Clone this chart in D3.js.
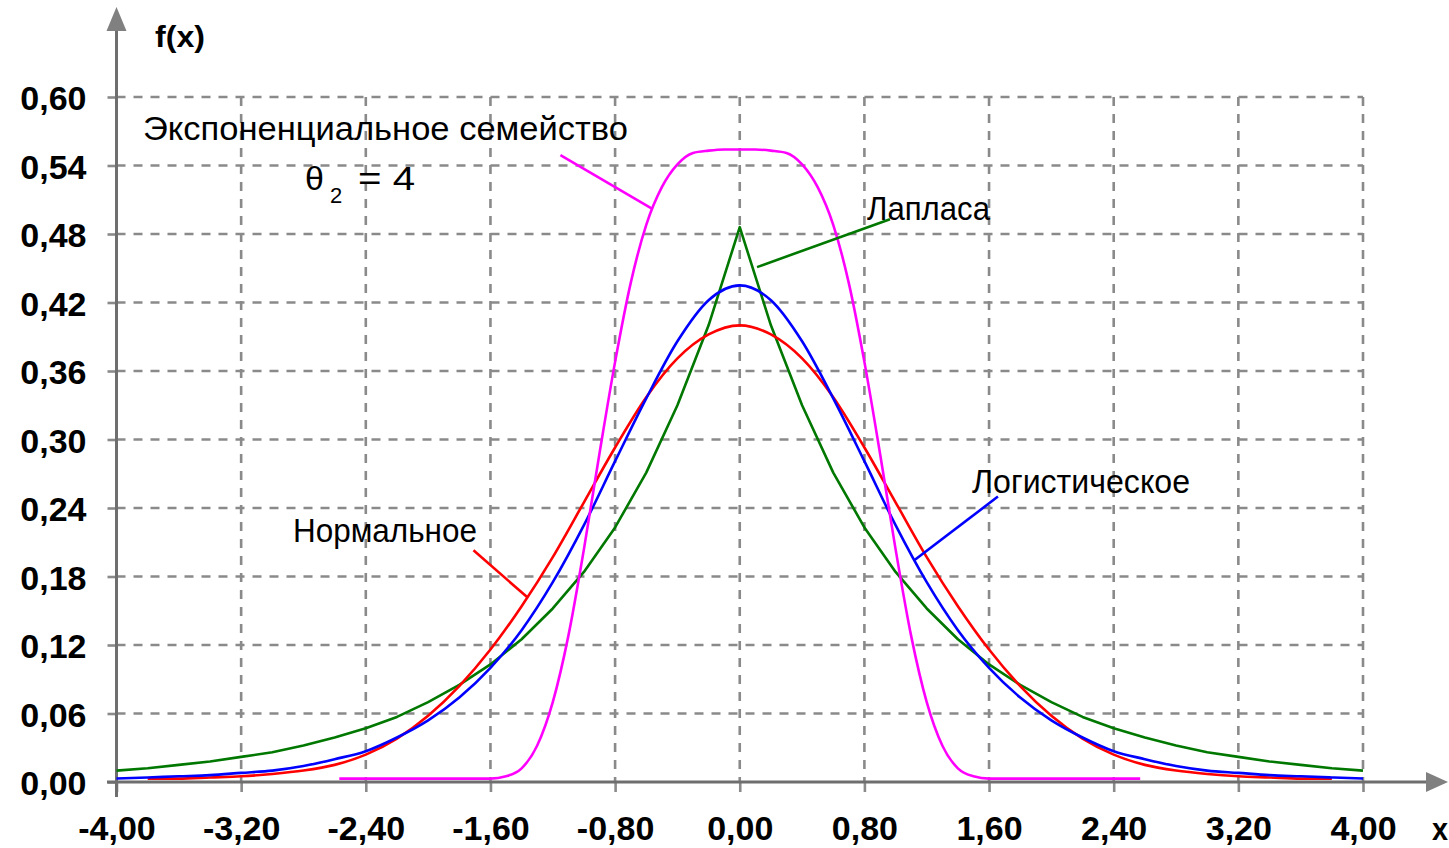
<!DOCTYPE html>
<html>
<head>
<meta charset="utf-8">
<script src="https://cdn.jsdelivr.net/npm/d3@7"></script>
<style>
  body { margin: 0; background: #fff; }
  svg { display: block; }
</style>
</head>
<body>
<figure id="chart" style="margin:0"></figure>
<script>
// x positions shared by the Laplace and logistic curves
const xFull = [-4.0, -3.8, -3.6, -3.4, -3.2, -3.0, -2.8, -2.6, -2.4, -2.2, -2.0, -1.8, -1.6, -1.4, -1.2, -1.0, -0.8, -0.6, -0.4, -0.2,
  0.0, 0.2, 0.4, 0.6, 0.8, 1.0, 1.2, 1.4, 1.6, 1.8, 2.0, 2.2, 2.4, 2.6, 2.8, 3.0, 3.2, 3.4, 3.6, 3.8, 4.0];

const laplace = [0.010, 0.012, 0.015, 0.018, 0.022, 0.026, 0.032, 0.039, 0.047, 0.057, 0.070, 0.085, 0.103, 0.125, 0.152, 0.184, 0.223, 0.271, 0.330, 0.400,
  0.486, 0.400, 0.330, 0.271, 0.223, 0.184, 0.152, 0.125, 0.103, 0.085, 0.070, 0.057, 0.047, 0.039, 0.032, 0.026, 0.022, 0.018, 0.015, 0.012, 0.010];

const logistic = [0.003, 0.004, 0.005, 0.006, 0.008, 0.010, 0.014, 0.020, 0.027, 0.039, 0.054, 0.074, 0.100, 0.133, 0.175, 0.225, 0.281, 0.336, 0.386, 0.422,
  0.435, 0.422, 0.386, 0.336, 0.281, 0.225, 0.175, 0.133, 0.100, 0.074, 0.054, 0.039, 0.027, 0.020, 0.014, 0.010, 0.008, 0.006, 0.005, 0.004, 0.003];

// normal curve is drawn from -3.8 to 3.8
const xNormal = [-3.8, -3.6, -3.4, -3.2, -3.0, -2.8, -2.6, -2.4, -2.2, -2.0, -1.8, -1.6, -1.4, -1.2, -1.0, -0.8, -0.6, -0.4, -0.2,
  0.0, 0.2, 0.4, 0.6, 0.8, 1.0, 1.2, 1.4, 1.6, 1.8, 2.0, 2.2, 2.4, 2.6, 2.8, 3.0, 3.2, 3.4, 3.6, 3.8];

const normal = [0.003, 0.003, 0.004, 0.005, 0.007, 0.010, 0.015, 0.024, 0.038, 0.058, 0.084, 0.116, 0.154, 0.197, 0.245, 0.293, 0.337, 0.371, 0.392,
  0.400, 0.392, 0.371, 0.337, 0.293, 0.245, 0.197, 0.154, 0.116, 0.084, 0.058, 0.038, 0.024, 0.015, 0.010, 0.007, 0.005, 0.004, 0.003, 0.003];

// exponential family (theta2 = 4), flat outside +-1.6
const xExp = [-2.57, -1.6, -1.5, -1.4, -1.3, -1.2, -1.1, -1.0, -0.9, -0.8, -0.7, -0.6, -0.5, -0.4, -0.3, -0.2, -0.1,
  0.0, 0.1, 0.2, 0.3, 0.4, 0.5, 0.6, 0.7, 0.8, 0.9, 1.0, 1.1, 1.2, 1.3, 1.4, 1.5, 1.6, 2.57];

const expFamily = [0.003, 0.003, 0.005, 0.012, 0.032, 0.070, 0.128, 0.204, 0.288, 0.368, 0.437, 0.488, 0.521, 0.541, 0.551, 0.553, 0.554,
  0.554, 0.554, 0.553, 0.551, 0.541, 0.521, 0.488, 0.437, 0.368, 0.288, 0.204, 0.128, 0.070, 0.032, 0.012, 0.005, 0.003, 0.003];

const xTicks = [-4, -3.2, -2.4, -1.6, -0.8, 0, 0.8, 1.6, 2.4, 3.2, 4];
const yTicks = [0, 0.06, 0.12, 0.18, 0.24, 0.30, 0.36, 0.42, 0.48, 0.54, 0.60];

const W = 1449, H = 848;
const plotLeft = 116.5, plotRight = 1363, plotTop = 97, plotBottom = 782;

const svg = d3.select("figure#chart")
  .append("svg")
  .attr("width", W)
  .attr("height", H);

const x = d3.scaleLinear().domain([-4, 4]).range([plotLeft, plotRight]);
const y = d3.scaleLinear().domain([0, 0.6]).range([plotBottom, plotTop]);

const fmt = d3.formatLocale({ decimal: ",", thousands: " ", grouping: [3], currency: ["", ""], minus: "-" }).format(".2f");

const gridColor = "#8a8a8a";
const axisColor = "#6e6e6e";

// dashed grid
svg.append("g").selectAll("line")
  .data(xTicks.filter(d => d !== -4))
  .enter().append("line")
  .attr("x1", d => x(d)).attr("x2", d => x(d))
  .attr("y1", y(0.6)).attr("y2", y(0))
  .attr("stroke", gridColor).attr("stroke-width", 2.6)
  .attr("stroke-dasharray", "9,8");

svg.append("g").selectAll("line")
  .data(yTicks.filter(d => d !== 0))
  .enter().append("line")
  .attr("x1", x(-4)).attr("x2", x(4))
  .attr("y1", d => y(d)).attr("y2", d => y(d))
  .attr("stroke", gridColor).attr("stroke-width", 2.6)
  .attr("stroke-dasharray", "9,8");

// axes with tick labels
const xAxis = svg.append("g")
  .attr("transform", "translate(0," + y(0) + ")")
  .call(d3.axisBottom(x).tickValues(xTicks).tickFormat(fmt).tickSize(10).tickPadding(24));

const yAxis = svg.append("g")
  .attr("transform", "translate(" + x(-4) + ",0)")
  .call(d3.axisLeft(y).tickValues(yTicks).tickFormat(fmt).tickSize(9).tickPadding(21));

[xAxis, yAxis].forEach(g => {
  g.select(".domain").remove();
  g.selectAll(".tick line").attr("stroke", gridColor).attr("stroke-width", 2.6);
  g.selectAll(".tick text")
    .attr("fill", "#000")
    .style("font-family", "'Liberation Sans', Arial, sans-serif")
    .style("font-weight", "bold")
    .style("font-size", "34px");
});
yAxis.selectAll(".tick text").attr("dy", "0.37em");

// axis lines with arrows
svg.append("line")
  .attr("x1", x(-4)).attr("x2", x(-4))
  .attr("y1", 28).attr("y2", 797)
  .attr("stroke", axisColor).attr("stroke-width", 3);
svg.append("polygon")
  .attr("points", [[x(-4), 7], [x(-4) - 10, 31], [x(-4) + 10, 31]].join(" "))
  .attr("fill", "#808080");

svg.append("line")
  .attr("x1", 107).attr("x2", 1430)
  .attr("y1", y(0)).attr("y2", y(0))
  .attr("stroke", axisColor).attr("stroke-width", 3);
svg.append("polygon")
  .attr("points", [[1448, y(0)], [1426, y(0) - 10], [1426, y(0) + 10]].join(" "))
  .attr("fill", "#808080");

// curves
function drawCurve(xs, ys, color, curve) {
  const line = d3.line()
    .x((d, i) => x(xs[i]))
    .y(d => y(d))
    .curve(curve);
  svg.append("path")
    .datum(ys)
    .attr("d", line)
    .attr("fill", "none")
    .attr("stroke", color)
    .attr("stroke-width", 2.6)
    .attr("stroke-linejoin", "round");
}

drawCurve(xFull, laplace, "#007800", d3.curveLinear);
drawCurve(xNormal, normal, "#ff0000", d3.curveMonotoneX);
drawCurve(xFull, logistic, "#0000ff", d3.curveMonotoneX);
drawCurve(xExp, expFamily, "#ff00ff", d3.curveMonotoneX);

// leader lines (in data coordinates)
const leaders = [
  { from: [-1.151, 0.549], to: [-0.561, 0.502], color: "#ff00ff" },
  { from: [0.964, 0.493], to: [0.111, 0.451], color: "#007800" },
  { from: [-1.709, 0.203], to: [-1.365, 0.162], color: "#ff0000" },
  { from: [1.657, 0.250], to: [1.118, 0.194], color: "#0000ff" }
];
svg.append("g").selectAll("line")
  .data(leaders)
  .enter().append("line")
  .attr("x1", d => x(d.from[0])).attr("y1", d => y(d.from[1]))
  .attr("x2", d => x(d.to[0])).attr("y2", d => y(d.to[1]))
  .attr("stroke", d => d.color)
  .attr("stroke-width", 2.6);

// labels
const labelFont = "'Liberation Sans', Arial, sans-serif";
function label(txt, px, py, size, len, weight) {
  const t = svg.append("text")
    .attr("x", px).attr("y", py)
    .attr("fill", "#000")
    .style("font-family", labelFont)
    .style("font-size", size + "px")
    .style("font-weight", weight || "normal")
    .text(txt);
  if (len) t.attr("textLength", len).attr("lengthAdjust", "spacingAndGlyphs");
  return t;
}

label("Экспоненциальное семейство", 143, 140, 33, 485);
label("θ", 305, 190, 34);
label("2", 330, 203, 22);
label("= 4", 358, 190, 33, 57);
label("Лапласа", 867, 220, 33, 123);
label("Нормальное", 293, 542, 33, 184);
label("Логистическое", 972, 493, 33, 218);
label("f(x)", 155, 47, 30, 50, "bold");
label("x", 1432, 840, 32, 16, "bold");
</script>
</body>
</html>
